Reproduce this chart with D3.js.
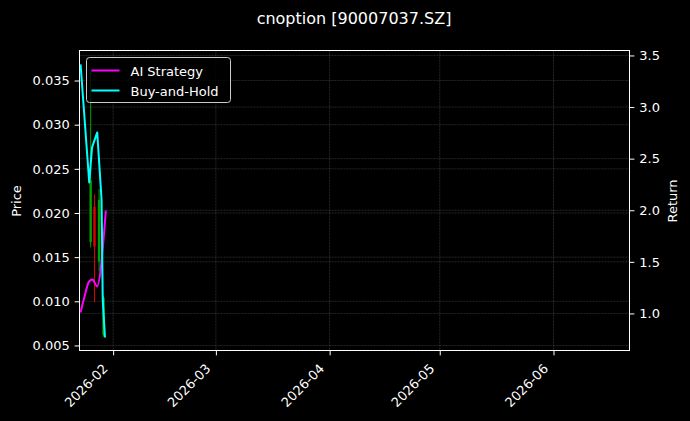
<!DOCTYPE html>
<html>
<head>
<meta charset="utf-8">
<script src="https://cdn.jsdelivr.net/npm/d3@7"></script>
<style>
  html, body { margin: 0; padding: 0; background: #000; }
  svg { display: block; }
  text { font-family: "DejaVu Sans", sans-serif; fill: #fff; }
</style>
</head>
<body>
<div id="chart"></div>
<script>
// x range of the axes (dates shown)
var xDomain = ["2026-01-22T20:00", "2026-06-21T17:00"];
var xTicks = ["2026-02-01", "2026-03-01", "2026-04-01", "2026-05-01", "2026-06-01"];

// price axis (left) and return axis (right)
var priceDomain = [0.00443, 0.0384];
var priceTicks = [0.005, 0.010, 0.015, 0.020, 0.025, 0.030, 0.035];
var returnDomain = [0.641, 3.548];
var returnTicks = [1.0, 1.5, 2.0, 2.5, 3.0, 3.5];

// candles: date, open, high, low, close
var candleDates = ["2026-01-25T21:00", "2026-01-26T22:00", "2026-01-28T04:00", "2026-01-29T09:00"];
var candleOpen  = [0.0167, 0.0207, 0.0145, 0.0062];
var candleHigh  = [0.0365, 0.0221, 0.0227, 0.0106];
var candleLow   = [0.0161, 0.0099, 0.0134, 0.0060];
var candleClose = [0.0237, 0.0162, 0.0215, 0.0104];

// AI strategy return
var aiDates = ["2026-01-23T03:00", "2026-01-24T05:00", "2026-01-25T10:20", "2026-01-26T09:20",
               "2026-01-26T22:20", "2026-01-27T14:40", "2026-01-30T00:15"];
var aiValues = [1.010, 1.165, 1.310, 1.329, 1.300, 1.262, 1.998];

// buy-and-hold return
var bhDates = ["2026-01-23T03:00", "2026-01-25T11:40", "2026-01-26T06:00", "2026-01-27T16:00",
               "2026-01-28T20:10", "2026-01-29T04:00", "2026-01-29T18:30"];
var bhValues = [3.413, 2.269, 2.609, 2.754, 2.105, 1.136, 0.767];

var width = 690, height = 421;
var margin = {top: 50.5, right: 61, bottom: 70, left: 79.5};
var plotW = 550, plotH = 300;
var tickLen = 4.9, tickPad = 4.9;

var parse = d3.isoParse;

var x = d3.scaleTime().domain(xDomain.map(parse)).range([0, plotW]);
var yPrice = d3.scaleLinear().domain(priceDomain).range([plotH, 0]);
var yRet = d3.scaleLinear().domain(returnDomain).range([plotH, 0]);

var svg = d3.select("#chart").append("svg")
    .attr("width", width)
    .attr("height", height)
    .style("background", "#000");

svg.append("text")
    .attr("x", 79 + plotW / 2)
    .attr("y", 24)
    .attr("text-anchor", "middle")
    .style("font-size", "16px")
    .text("cnoption [90007037.SZ]");

var g = svg.append("g")
    .attr("transform", "translate(" + margin.left + "," + margin.top + ")");

// grid lines for both y axes and the x axis
var grid = g.append("g").attr("class", "grid");
function gridLine(x1, y1, x2, y2) {
  grid.append("line")
      .attr("x1", x1).attr("y1", y1).attr("x2", x2).attr("y2", y2)
      .attr("stroke", "#fff")
      .attr("stroke-opacity", 0.3)
      .attr("stroke-width", 0.5)
      .attr("stroke-dasharray", "2,1");
}
xTicks.forEach(function(d) { gridLine(x(parse(d)), 0, x(parse(d)), plotH); });
priceTicks.forEach(function(d) { gridLine(0, yPrice(d), plotW, yPrice(d)); });
returnTicks.forEach(function(d) { gridLine(0, yRet(d), plotW, yRet(d)); });

// candles
var candles = candleDates.map(function(d, i) {
  return {date: parse(d), open: candleOpen[i], high: candleHigh[i], low: candleLow[i], close: candleClose[i]};
});
var candleG = g.append("g").attr("class", "candles");
candles.forEach(function(c) {
  var col = c.close >= c.open ? "#00a000" : "#e00000";
  var cx = x(c.date);
  candleG.append("line")
      .attr("x1", cx).attr("x2", cx)
      .attr("y1", yPrice(c.high)).attr("y2", yPrice(c.low))
      .attr("stroke", col)
      .attr("stroke-width", 1);
  candleG.append("rect")
      .attr("x", cx - 1.2)
      .attr("width", 2.4)
      .attr("y", yPrice(Math.max(c.open, c.close)))
      .attr("height", Math.abs(yPrice(c.open) - yPrice(c.close)))
      .attr("fill", col);
});

var ai = aiDates.map(function(d, i) { return {date: parse(d), value: aiValues[i]}; });
var bh = bhDates.map(function(d, i) { return {date: parse(d), value: bhValues[i]}; });

g.append("path")
    .datum(ai)
    .attr("d", d3.line()
      .x(function(d) { return x(d.date); })
      .y(function(d) { return yRet(d.value); })
      .curve(d3.curveMonotoneX))
    .attr("fill", "none")
    .attr("stroke", "#ff00ff")
    .attr("stroke-width", 2);

g.append("path")
    .datum(bh)
    .attr("d", d3.line()
      .x(function(d) { return x(d.date); })
      .y(function(d) { return yRet(d.value); }))
    .attr("fill", "none")
    .attr("stroke", "#00ffff")
    .attr("stroke-width", 2)
    .attr("stroke-linejoin", "round");

// axes
var fontSize = "13px";

var xAxis = g.append("g")
    .attr("transform", "translate(0," + plotH + ")")
    .call(d3.axisBottom(x)
      .tickValues(xTicks.map(parse))
      .tickFormat(d3.timeFormat("%Y-%m"))
      .tickSize(tickLen)
      .tickPadding(tickPad));
xAxis.select(".domain").remove();
xAxis.selectAll(".tick line").attr("stroke", "#fff");
xAxis.selectAll(".tick text")
    .style("font-size", fontSize)
    .attr("fill", "#fff")
    .attr("text-anchor", "end")
    .attr("dy", null)
    .attr("y", 0)
    .attr("transform", "translate(-5,19) rotate(-45)");

var leftAxis = g.append("g")
    .call(d3.axisLeft(yPrice)
      .tickValues(priceTicks)
      .tickFormat(d3.format(".3f"))
      .tickSize(tickLen)
      .tickPadding(tickPad));
leftAxis.select(".domain").remove();
leftAxis.selectAll(".tick line").attr("stroke", "#fff");
leftAxis.selectAll(".tick text").style("font-size", fontSize).attr("fill", "#fff");

var rightAxis = g.append("g")
    .attr("transform", "translate(" + plotW + ",0)")
    .call(d3.axisRight(yRet)
      .tickValues(returnTicks)
      .tickFormat(d3.format(".1f"))
      .tickSize(tickLen)
      .tickPadding(tickPad));
rightAxis.select(".domain").remove();
rightAxis.selectAll(".tick line").attr("stroke", "#fff");
rightAxis.selectAll(".tick text").style("font-size", fontSize).attr("fill", "#fff");

// frame
g.append("rect")
    .attr("width", plotW)
    .attr("height", plotH)
    .attr("fill", "none")
    .attr("stroke", "#fff")
    .attr("stroke-width", 1);

// axis labels
svg.append("text")
    .attr("transform", "translate(21," + (51 + plotH / 2) + ") rotate(-90)")
    .attr("text-anchor", "middle")
    .style("font-size", fontSize)
    .text("Price");

svg.append("text")
    .attr("transform", "translate(677," + (51 + plotH / 2) + ") rotate(-90)")
    .attr("text-anchor", "middle")
    .style("font-size", fontSize)
    .text("Return");

// legend
var legendItems = [
  {label: "AI Strategy", color: "#ff00ff"},
  {label: "Buy-and-Hold", color: "#00ffff"}
];
var legend = g.append("g").attr("transform", "translate(7,7)");
legend.append("rect")
    .attr("width", 144)
    .attr("height", 45)
    .attr("rx", 3)
    .attr("fill", "#000")
    .attr("fill-opacity", 0.8)
    .attr("stroke", "#ccc")
    .attr("stroke-width", 1);
legendItems.forEach(function(d, i) {
  var ly = 13 + i * 20;
  legend.append("line")
      .attr("x1", 5).attr("x2", 33)
      .attr("y1", ly).attr("y2", ly)
      .attr("stroke", d.color)
      .attr("stroke-width", 2);
  legend.append("text")
      .attr("x", 44)
      .attr("y", ly + 5)
      .style("font-size", fontSize)
      .text(d.label);
});
</script>
</body>
</html>
